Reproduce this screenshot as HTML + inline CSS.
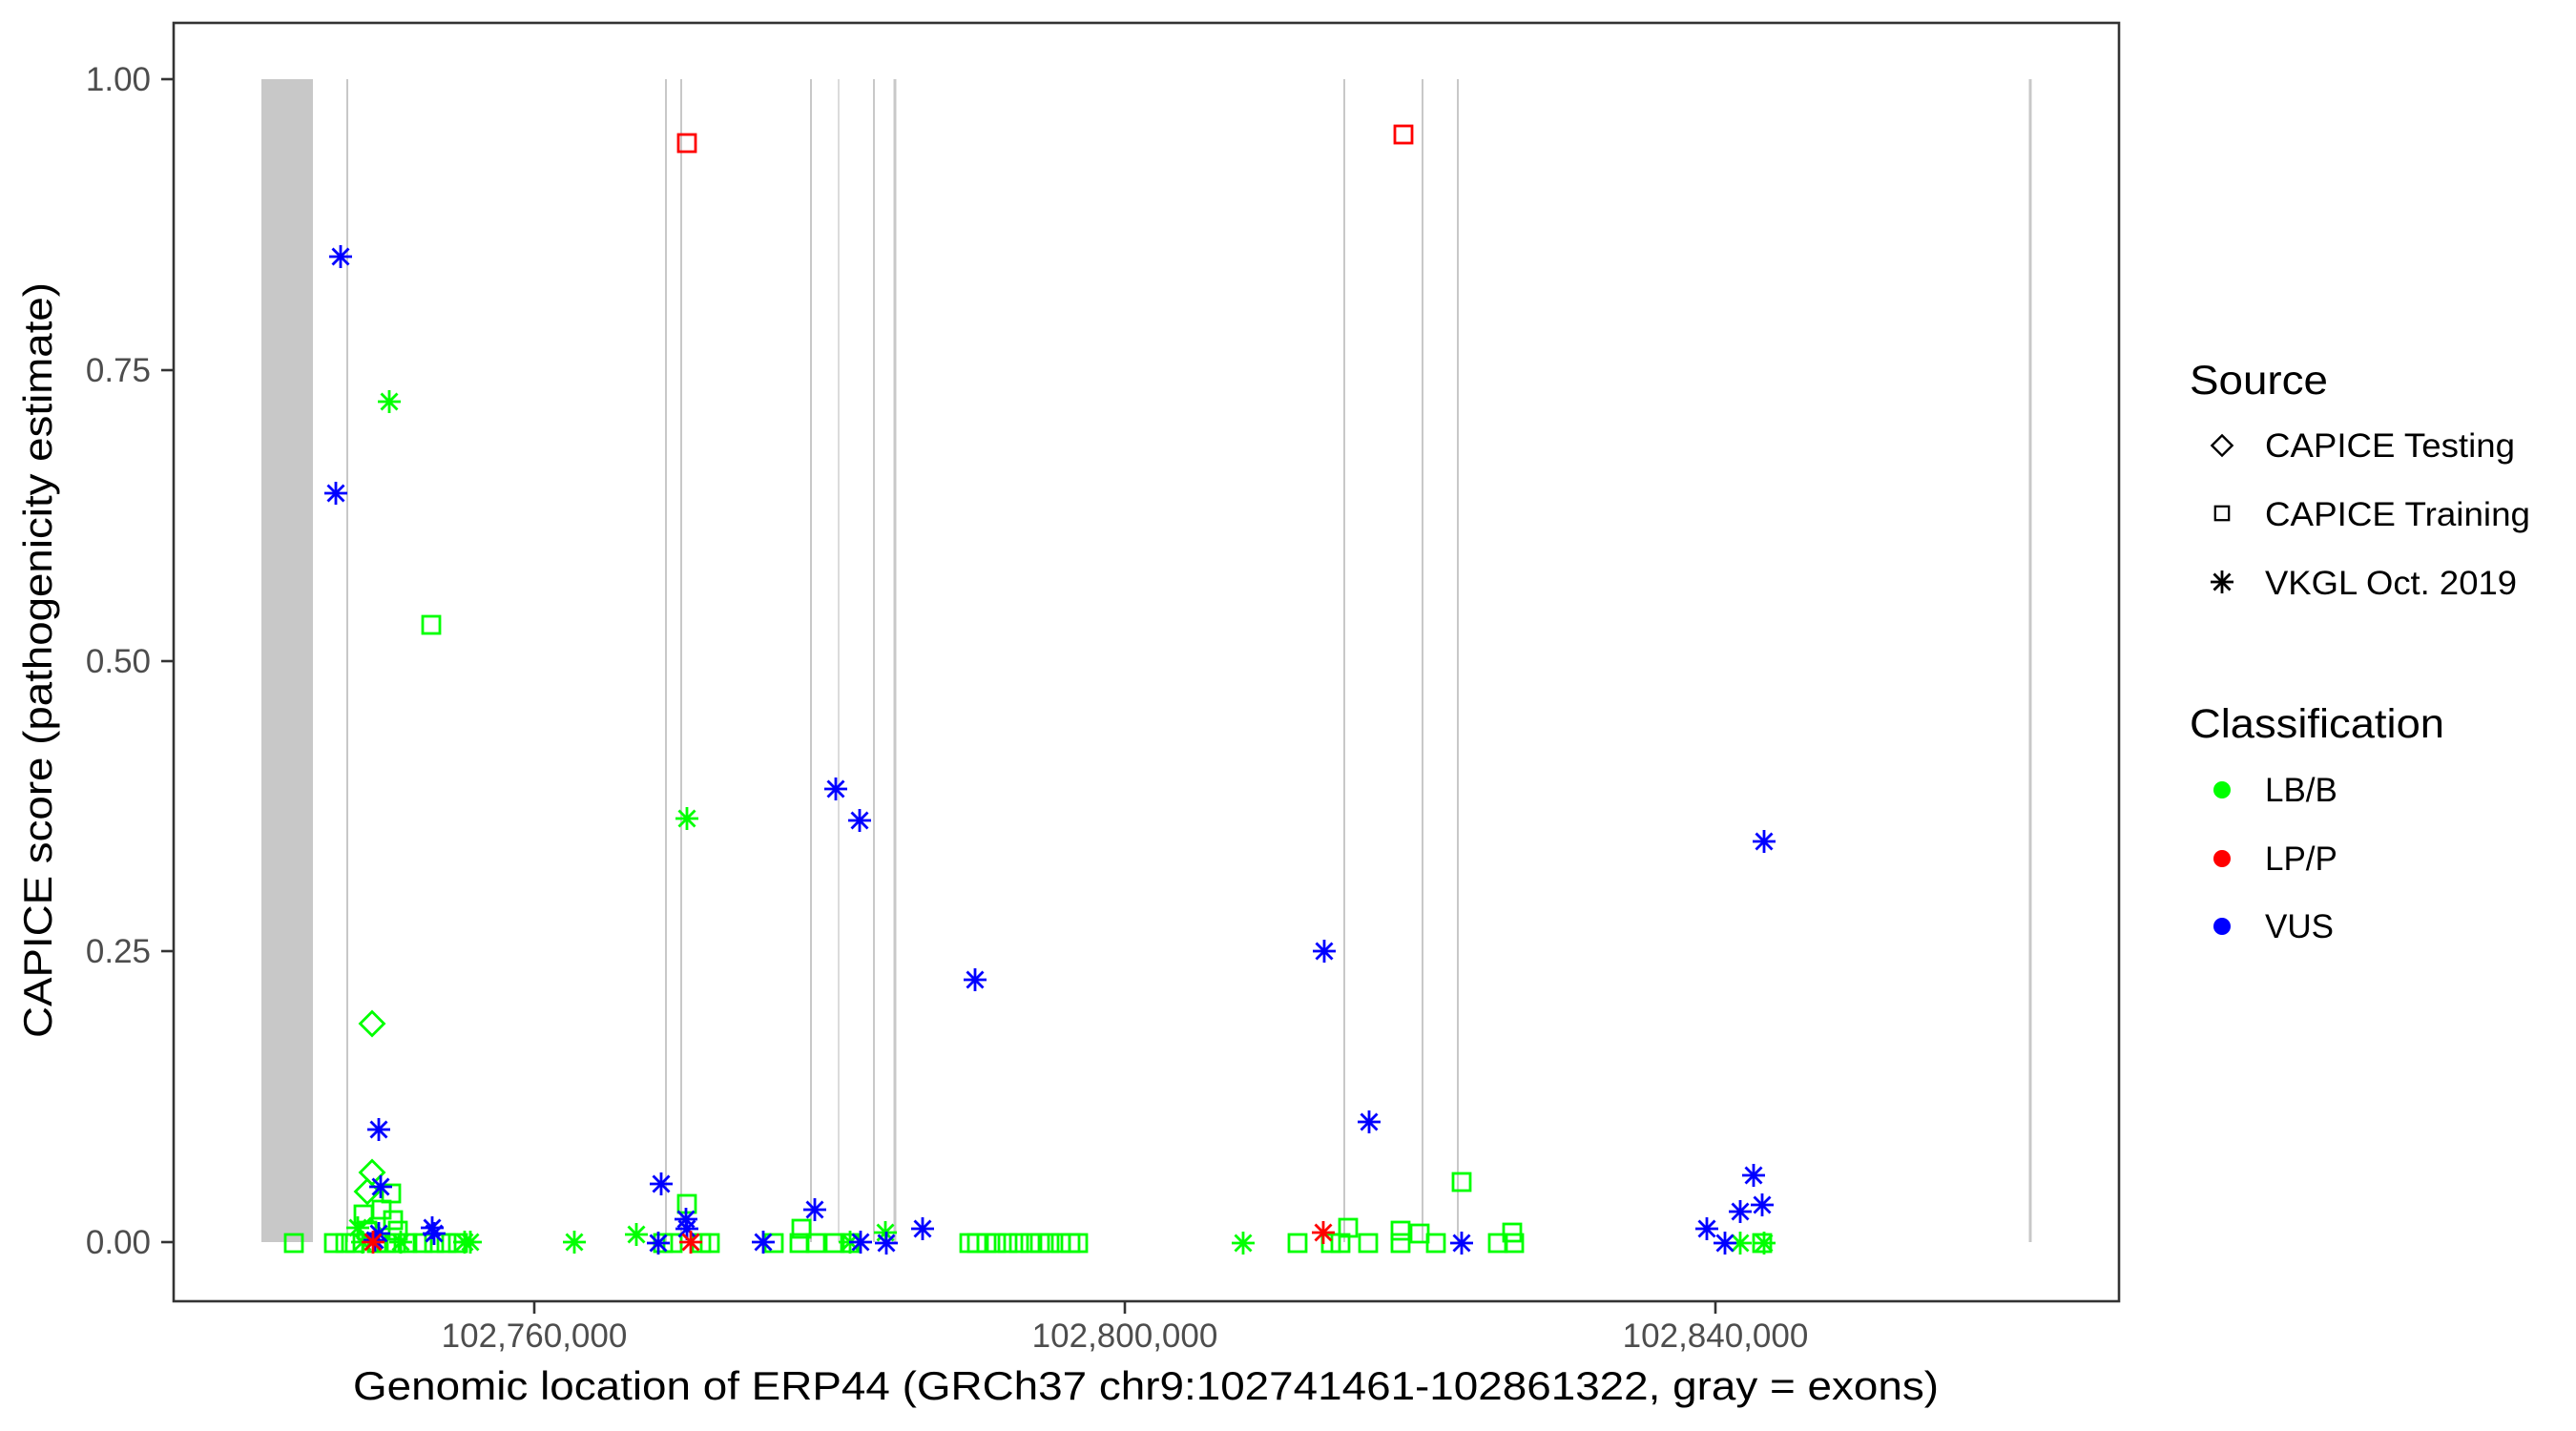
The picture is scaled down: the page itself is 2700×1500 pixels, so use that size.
<!DOCTYPE html>
<html><head><meta charset="utf-8"><style>
html,body{margin:0;padding:0;background:#fff;}
svg{display:block;font-family:"Liberation Sans",Arial,sans-serif;}
</style></head><body>
<svg width="2700" height="1500" viewBox="0 0 2700 1500" xmlns="http://www.w3.org/2000/svg">
<defs>
<g id="a" fill="none" stroke-width="2.8"><line x1="-12" y1="0" x2="12" y2="0"/><line x1="0" y1="-12" x2="0" y2="12"/><line x1="-8.5" y1="-8.5" x2="8.5" y2="8.5"/><line x1="-8.5" y1="8.5" x2="8.5" y2="-8.5"/></g>
<rect id="s" x="-9" y="-9" width="18" height="18" fill="none" stroke-width="2.8"/>
<polygon id="d" points="0,-12.5 12.5,0 0,12.5 -12.5,0" fill="none" stroke-width="2.8"/>
</defs>
<rect x="0" y="0" width="2700" height="1500" fill="#fff"/>
<rect x="274" y="83" width="54" height="1219" fill="#c8c8c8"/>
<g stroke="#c8c8c8" stroke-width="2">
<line x1="364" y1="83" x2="364" y2="1302"/>
<line x1="698" y1="83" x2="698" y2="1302"/>
<line x1="714" y1="83" x2="714" y2="1302"/>
<line x1="850" y1="83" x2="850" y2="1302"/>
<line x1="879" y1="83" x2="879" y2="1302" stroke-width="1.3"/>
<line x1="916" y1="83" x2="916" y2="1302"/>
<line x1="938" y1="83" x2="938" y2="1302" stroke-width="3"/>
<line x1="1409" y1="83" x2="1409" y2="1302"/>
<line x1="1491" y1="83" x2="1491" y2="1302"/>
<line x1="1528" y1="83" x2="1528" y2="1302"/>
<line x1="2128" y1="83" x2="2128" y2="1302" stroke-width="3"/>
</g>
<g stroke="#00ff00">
<use href="#s" x="452" y="655"/><use href="#s" x="308" y="1303"/><use href="#s" x="350" y="1303"/><use href="#s" x="362" y="1303"/><use href="#s" x="372" y="1303"/>
<use href="#s" x="381" y="1273"/><use href="#s" x="400" y="1268"/><use href="#s" x="410" y="1251"/><use href="#s" x="412" y="1279"/><use href="#s" x="417" y="1290"/><use href="#s" x="385" y="1290"/>
<use href="#s" x="395" y="1303"/><use href="#s" x="405" y="1303"/><use href="#s" x="415" y="1303"/><use href="#s" x="427" y="1303"/>
<use href="#s" x="443" y="1303"/><use href="#s" x="455" y="1303"/><use href="#s" x="468" y="1303"/><use href="#s" x="480" y="1303"/>
<use href="#s" x="695" y="1303"/><use href="#s" x="705" y="1303"/><use href="#s" x="720" y="1262"/><use href="#s" x="735" y="1303"/><use href="#s" x="744" y="1303"/>
<use href="#s" x="811" y="1303"/><use href="#s" x="838" y="1303"/><use href="#s" x="840" y="1288"/><use href="#s" x="855" y="1303"/><use href="#s" x="875" y="1303"/><use href="#s" x="891" y="1303"/>
<use href="#s" x="1016" y="1303"/><use href="#s" x="1024" y="1303"/><use href="#s" x="1034" y="1303"/><use href="#s" x="1044" y="1303"/><use href="#s" x="1056" y="1303"/><use href="#s" x="1068" y="1303"/><use href="#s" x="1080" y="1303"/><use href="#s" x="1090" y="1303"/><use href="#s" x="1100" y="1303"/><use href="#s" x="1112" y="1303"/><use href="#s" x="1122" y="1303"/><use href="#s" x="1130" y="1303"/>
<use href="#s" x="1360" y="1303"/><use href="#s" x="1395" y="1303"/><use href="#s" x="1405" y="1303"/><use href="#s" x="1413" y="1287"/><use href="#s" x="1434" y="1303"/>
<use href="#s" x="1468" y="1303"/><use href="#s" x="1468" y="1290"/><use href="#s" x="1488" y="1293"/><use href="#s" x="1505" y="1303"/><use href="#s" x="1532" y="1239"/>
<use href="#s" x="1570" y="1303"/><use href="#s" x="1585" y="1292"/><use href="#s" x="1587" y="1303"/><use href="#s" x="1847" y="1303"/>
</g>
<g stroke="#ff0000"><use href="#s" x="720" y="150"/><use href="#s" x="1471" y="141"/></g>
<g stroke="#00ff00"><use href="#d" x="390" y="1073"/><use href="#d" x="390" y="1229"/><use href="#d" x="385" y="1249"/><use href="#d" x="388" y="1290"/></g>
<g stroke="#00ff00">
<use href="#a" x="408" y="421"/><use href="#a" x="720" y="858"/><use href="#a" x="375" y="1287"/><use href="#a" x="380" y="1302"/><use href="#a" x="420" y="1302"/>
<use href="#a" x="487" y="1302"/><use href="#a" x="493" y="1302"/><use href="#a" x="602" y="1302"/><use href="#a" x="667" y="1294"/>
<use href="#a" x="891" y="1302"/><use href="#a" x="928" y="1292"/><use href="#a" x="1303" y="1303"/><use href="#a" x="1824" y="1303"/><use href="#a" x="1849" y="1303"/>
</g>
<g stroke="#0000ff">
<use href="#a" x="357" y="269"/><use href="#a" x="352" y="517"/><use href="#a" x="397" y="1184"/><use href="#a" x="399" y="1244"/><use href="#a" x="397" y="1293"/><use href="#a" x="393" y="1300"/>
<use href="#a" x="453" y="1287"/><use href="#a" x="455" y="1293"/><use href="#a" x="693" y="1241"/><use href="#a" x="690" y="1303"/><use href="#a" x="719" y="1278"/><use href="#a" x="720" y="1288"/>
<use href="#a" x="800" y="1302"/><use href="#a" x="854" y="1268"/><use href="#a" x="876" y="827"/><use href="#a" x="901" y="860"/><use href="#a" x="902" y="1302"/><use href="#a" x="929" y="1303"/>
<use href="#a" x="967" y="1288"/><use href="#a" x="1022" y="1027"/><use href="#a" x="1388" y="997"/><use href="#a" x="1435" y="1176"/><use href="#a" x="1532" y="1303"/>
<use href="#a" x="1789" y="1288"/><use href="#a" x="1808" y="1303"/><use href="#a" x="1824" y="1270"/><use href="#a" x="1847" y="1263"/><use href="#a" x="1838" y="1232"/><use href="#a" x="1849" y="882"/>
</g>
<g stroke="#ff0000"><use href="#a" x="391" y="1302"/><use href="#a" x="724" y="1302"/><use href="#a" x="1387" y="1292"/></g>
<rect x="182" y="24" width="2039" height="1340" fill="none" stroke="#333" stroke-width="2.6"/>
<g stroke="#333" stroke-width="2.6">
<line x1="169" y1="83" x2="182" y2="83"/><line x1="169" y1="388" x2="182" y2="388"/><line x1="169" y1="693" x2="182" y2="693"/><line x1="169" y1="997" x2="182" y2="997"/><line x1="169" y1="1302" x2="182" y2="1302"/>
<line x1="560" y1="1364" x2="560" y2="1377"/><line x1="1179" y1="1364" x2="1179" y2="1377"/><line x1="1798" y1="1364" x2="1798" y2="1377"/>
</g>
<g fill="#4d4d4d" font-size="35" text-anchor="end">
<text x="158" y="95">1.00</text><text x="158" y="400">0.75</text><text x="158" y="705">0.50</text><text x="158" y="1009">0.25</text><text x="158" y="1314">0.00</text>
</g>
<g fill="#4d4d4d" font-size="35" text-anchor="middle">
<text x="560" y="1412">102,760,000</text><text x="1179" y="1412">102,800,000</text><text x="1798" y="1412">102,840,000</text>
</g>
<text x="1201" y="1467" font-size="42" text-anchor="middle" textLength="1662" lengthAdjust="spacingAndGlyphs">Genomic location of ERP44 (GRCh37 chr9:102741461-102861322, gray = exons)</text>
<text transform="translate(54,692) rotate(-90)" font-size="42" text-anchor="middle" textLength="792" lengthAdjust="spacingAndGlyphs">CAPICE score (pathogenicity estimate)</text>
<text x="2295" y="413" font-size="43" textLength="145" lengthAdjust="spacingAndGlyphs">Source</text>
<g stroke="#000"><use href="#d" x="2329" y="467" transform="translate(2329,467) scale(0.85) translate(-2329,-467)"/><use href="#s" x="2329" y="538" transform="translate(2329,538) scale(0.8) translate(-2329,-538)"/><use href="#a" x="2329" y="610"/></g>
<g font-size="35"><text x="2374" y="479" textLength="262" lengthAdjust="spacingAndGlyphs">CAPICE Testing</text><text x="2374" y="551" textLength="278" lengthAdjust="spacingAndGlyphs">CAPICE Training</text><text x="2374" y="623" textLength="264" lengthAdjust="spacingAndGlyphs">VKGL Oct. 2019</text></g>
<text x="2295" y="773" font-size="43" textLength="267" lengthAdjust="spacingAndGlyphs">Classification</text>
<circle cx="2329" cy="828" r="9" fill="#00ff00"/><circle cx="2329" cy="900" r="9" fill="#ff0000"/><circle cx="2329" cy="971" r="9" fill="#0000ff"/>
<g font-size="35"><text x="2374" y="840">LB/B</text><text x="2374" y="912">LP/P</text><text x="2374" y="983">VUS</text></g>
</svg>
</body></html>
